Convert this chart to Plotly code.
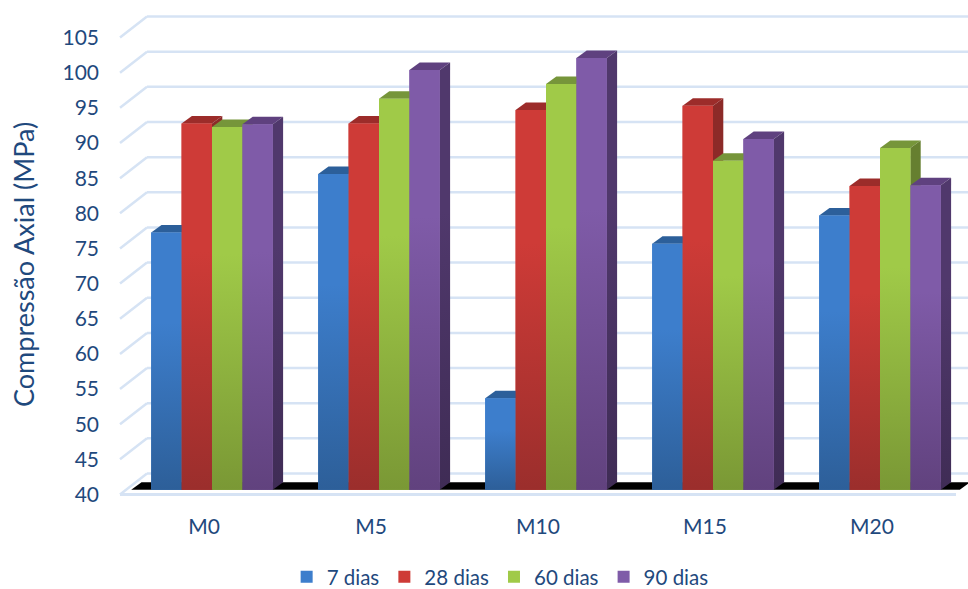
import plotly.graph_objects as go

categories = ["M0", "M5", "M10", "M15", "M20"]
series_names = ["7 dias", "28 dias", "60 dias", "90 dias"]
dias_7 = [76.6, 84.9, 53.0, 75.0, 79.0]
dias_28 = [92.1, 92.1, 94.0, 94.6, 83.2]
dias_60 = [91.6, 95.6, 97.7, 86.8, 88.6]
dias_90 = [92.0, 99.7, 101.4, 89.9, 83.3]
y_ticks = list(range(40, 110, 5))

series = [dias_7, dias_28, dias_60, dias_90]
INK = "#1f497d"
GRID = "#d6e3f4"
FONT = "Lato"
# (front top, front bottom, top face, side top, side bottom)
palettes = [
    ("#3d7ecc", "#2d5f99", "#2c5f9a", "#2a5a92", "#234d80"),
    ("#ce3b37", "#9b2e2c", "#9c2c2a", "#8c2a28", "#702220"),
    ("#a0ca48", "#7a9835", "#76953a", "#667f30", "#556a28"),
    ("#7f5ba8", "#61427e", "#5f417f", "#50386c", "#3f2c55"),
]

PX_X = 167.0      # pixels per category
PX_Y = 7.03       # pixels per value unit
W = 30.4 / PX_X   # bar width
DX = 10.3 / PX_X  # bar depth
DY = 7.5 / PX_Y
WALL_DX = 27.0 / PX_X
WALL_DY = 21.0 / PX_Y
LEFT_PX, PLOT_BOTTOM = 100.0, 505.0
x0 = -(212.0 - LEFT_PX) / PX_X
x1 = (968.0 - 212.0) / PX_X
front_x = x0 + 20.0 / PX_X
LBL_BASE, BAR_BASE = 494.5, 489.7  # pixel of the value 40 on the wall/bar planes

def y_range(base_px):
    return [40 - (PLOT_BOTTOM - base_px) / PX_Y, 40 + base_px / PX_Y]

fig = go.Figure()
shapes = []
for v in y_ticks:
    shapes.append(dict(type="line", xref="x", yref="y", layer="below",
                       x0=front_x, y0=v, x1=front_x + WALL_DX, y1=v + WALL_DY,
                       line=dict(color=GRID, width=2.5)))
    shapes.append(dict(type="line", xref="x", yref="y", layer="below",
                       x0=front_x + WALL_DX, y0=v + WALL_DY, x1=x1, y1=v + WALL_DY,
                       line=dict(color=GRID, width=2.5)))
shapes.append(dict(type="line", xref="x", yref="y", layer="below",
                   x0=front_x, y0=40, x1=front_x + 836.0 / PX_X, y1=40,
                   line=dict(color=GRID, width=3)))
# black floor, on the bar plane
fx0, fx1 = -2 * W - 20.0 / PX_X, 4 + 2 * W + 19.0 / PX_X
shapes.append(dict(type="path", xref="x", yref="y2", layer="below",
                   path=f"M{fx0},40 L{fx0 + DX},{40 + DY} L{fx1 + DX},{40 + DY} L{fx1},40 Z",
                   fillcolor="#000000", line=dict(width=0)))

# base bars (also the legend)
for s, (name, vals, pal) in enumerate(zip(series_names, series, palettes)):
    fig.add_trace(go.Bar(
        x=list(range(len(categories))), y=[v - 40 for v in vals], base=40,
        width=W, offset=(s - 2) * W, name=name, yaxis="y2",
        marker=dict(color=pal[0], line=dict(width=0)), hoverinfo="skip"))

def face(xs, ys, c_top, c_bottom, lo, hi):
    fig.add_trace(go.Scatter(
        x=xs, y=ys, yaxis="y2", mode="lines", fill="toself",
        line=dict(width=0, color=c_top), showlegend=False, hoverinfo="skip",
        fillgradient=dict(type="vertical", start=hi, stop=lo,
                          colorscale=[[0, c_top], [0.35, c_top], [1, c_bottom]])))

# painter's order: left to right
for c in range(len(categories)):
    for s, (vals, pal) in enumerate(zip(series, palettes)):
        v = vals[c]
        l = c + (s - 2) * W
        r = l + W
        face([l, l + DX, r + DX, r, l], [v, v + DY, v + DY, v, v], pal[2], pal[2], v, v + DY)
        face([r, r + DX, r + DX, r, r], [40, 40 + DY, v + DY, v, 40], pal[3], pal[4], 40, v + DY)
        face([l, r, r, l, l], [40, 40, v, v, 40], pal[0], pal[1], 40, v)

fig.update_layout(
    width=968, height=589, autosize=False,
    margin=dict(l=LEFT_PX, r=0, t=0, b=589 - PLOT_BOTTOM, autoexpand=False),
    paper_bgcolor="white", plot_bgcolor="white",
    barmode="overlay", shapes=shapes,
    font=dict(family=FONT, size=21, color=INK),
    xaxis=dict(range=[x0, x1], tickmode="array",
               tickvals=[i - 8.0 / PX_X for i in range(len(categories))],
               ticktext=categories, showgrid=False, zeroline=False, showline=False,
               ticks="outside", ticklen=3, tickcolor="rgba(0,0,0,0)",
               tickfont=dict(family=FONT, size=21, color=INK)),
    yaxis=dict(range=y_range(LBL_BASE), tickmode="array", tickvals=y_ticks,
               showgrid=False, zeroline=False, showline=False,
               tickfont=dict(family=FONT, size=21, color=INK)),
    yaxis2=dict(range=y_range(BAR_BASE), overlaying="y", visible=False),
    legend=dict(orientation="h", x=0.461, xanchor="center", y=0.0, yanchor="top",
                font=dict(family=FONT, size=20.5, color=INK),
                traceorder="normal", bgcolor="rgba(0,0,0,0)",
                itemwidth=30),
    annotations=[dict(text="Compressão Axial (MPa)", textangle=-90, showarrow=False,
                      xref="paper", yref="paper",
                      x=-(LEFT_PX - 23.0) / (968.0 - LEFT_PX),
                      y=(PLOT_BOTTOM - 265.0) / PLOT_BOTTOM,
                      xanchor="center", yanchor="middle",
                      font=dict(family=FONT, size=27, color=INK))],
)
fig.layout.legend.y = -(557 - PLOT_BOTTOM) / PLOT_BOTTOM
fig.write_html("out.html", config={"displayModeBar": False},
               post_script="document.body.style.margin='0';document.body.style.overflow='hidden';")
